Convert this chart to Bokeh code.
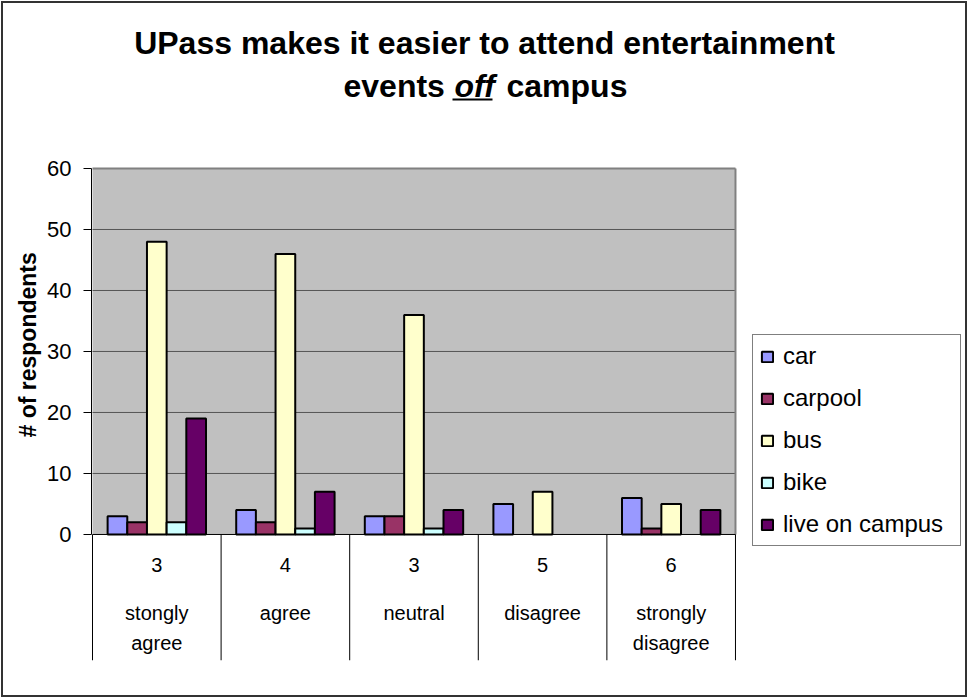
from bokeh.plotting import figure
from bokeh.models import (FixedTicker, Range1d, Label, Legend, LegendItem, Title,
                          BoxAnnotation, ColumnDataSource, InlineStyleSheet)
from bokeh.core.properties import value
from bokeh.embed import file_html
from bokeh.resources import INLINE

# ---- data ----
categories = ["stongly agree", "agree", "neutral", "disagree", "strongly disagree"]
category_labels = ["stongly\nagree", "agree", "neutral", "disagree", "strongly\ndisagree"]
category_counts = ["3", "4", "3", "5", "6"]
series_names = ["car", "carpool", "bus", "bike", "live on campus"]
car = [3, 4, 3, 5, 6]
carpool = [2, 2, 3, 0, 1]
bus = [48, 46, 36, 7, 5]
bike = [2, 1, 1, 0, 0]
live_on_campus = [19, 7, 4, 0, 4]
y_ticks = [0, 10, 20, 30, 40, 50, 60]
colors = ["#9999FF", "#993366", "#FFFFCC", "#CCFFFF", "#660066"]
y_title = "# of respondents"

series_values = [car, carpool, bus, bike, live_on_campus]
FONT = "Liberation Sans"
n = len(categories)
ymin, ymax = y_ticks[0], y_ticks[-1]

# layout constants: the frame is extended (in data units) to hold the category band,
# the title and the legend, so nothing is clipped
BAND_BOTTOM = -20.66
TOP_EXTRA = 87.54
RIGHT_EXTRA = 6.812
ROW_NUM, ROW_L1, ROW_L2 = -5.08, -12.95, -17.87
PAD_X = 0.0078

p = figure(width=968, height=698,
           x_range=Range1d(0 - PAD_X, RIGHT_EXTRA), y_range=Range1d(BAND_BOTTOM, TOP_EXTRA),
           output_backend="svg", toolbar_location=None, x_axis_type=None,
           min_border_left=91, min_border_right=0, min_border_top=0, min_border_bottom=38,
           background_fill_color="white", border_fill_color="white",
           outline_line_color=None)
p.title.visible = False
p.stylesheets = [InlineStyleSheet(css=(
    ":host { position: relative; }"
    ":host::after { content: ''; position: absolute; left: 1px; top: 1px; right: 1px; "
    "bottom: 1px; border: 2px solid #333333; pointer-events: none; z-index: 100; }"))]

# plot area (grey)
p.add_layout(BoxAnnotation(left=0, right=n, bottom=ymin, top=ymax, fill_color="#C0C0C0",
                           fill_alpha=1, line_color=None, level="image"))

# grid lines (only across the plot area)
p.grid.visible = False
inner = y_ticks[1:-1]
p.segment(x0=[0] * len(inner), y0=inner, x1=[n] * len(inner), y1=inner,
          line_color="#555555", line_width=1)
# plot-area border (top and right), grey
p.segment(x0=[0, n], y0=[ymax, ymin], x1=[n, n], y1=[ymax, ymax],
          line_color="#808080", line_width=2)

# y axis
ya = p.yaxis[0]
ya.bounds = (ymin, ymax)
ya.ticker = FixedTicker(ticks=y_ticks, minor_ticks=[])
ya.major_tick_out = 8
ya.major_tick_in = 0
ya.minor_tick_out = 0
ya.axis_line_color = "black"
ya.major_tick_line_color = "black"
ya.major_label_text_font = FONT
ya.major_label_text_font_size = "22px"
ya.major_label_text_color = "black"
ya.major_label_standoff = 12

# y axis title, placed along the 0..60 part of the axis
p.add_layout(Title(text=y_title, align="left", offset=223, text_font=FONT,
                   text_font_size="23px", text_font_style="bold", text_color="black",
                   standoff=8), "left")

# category axis: dividers + two label rows
centers = [i + 0.5 for i in range(n)]
bounds = [float(i) for i in range(n + 1)]
p.segment(x0=bounds, y0=[ymin] * len(bounds), x1=bounds, y1=[BAND_BOTTOM] * len(bounds),
          line_color="black", line_width=1)
line1 = [s.split("\n")[0] for s in category_labels]
line2 = [s.split("\n")[1] if "\n" in s else "" for s in category_labels]
txt_kw = dict(text_font=value(FONT), text_font_size="20px", text_color="black",
              text_align="center", text_baseline="middle")
p.text(x=centers, y=[ROW_NUM] * n, text=category_counts, **txt_kw)
p.text(x=centers, y=[ROW_L1] * n, text=line1, **txt_kw)
p.text(x=centers, y=[ROW_L2] * n, text=line2, **txt_kw)

# bars
bar_w = 0.153
items = []
for j, (name, vals, col) in enumerate(zip(series_names, series_values, colors)):
    xs = [c + (j - 2) * bar_w for c, v in zip(centers, vals) if v > 0]
    tops = [v for v in vals if v > 0]
    src = ColumnDataSource(dict(x=xs, top=tops))
    r = p.vbar(x="x", top="top", bottom=0, width=bar_w, source=src,
               fill_color=col, line_color="black", line_width=2)
    items.append(LegendItem(label=name, renderers=[r]))

# category axis line
p.segment(x0=[0], y0=[ymin], x1=[n], y1=[ymin], line_color="black", line_width=1)

legend = Legend(items=items, location=(661, 114))
legend.label_text_font = FONT
legend.label_text_font_size = "24px"
legend.label_text_color = "black"
legend.label_height = 26
legend.label_width = 170
legend.glyph_height = 13
legend.glyph_width = 14
legend.spacing = 14
legend.padding = 7
legend.label_standoff = 9
legend.margin = 0
legend.border_line_color = "black"
legend.border_line_width = 1
legend.background_fill_color = "white"
legend.background_fill_alpha = 1
p.add_layout(legend)

# title (two lines, "off" italic + underlined)
title_kw = dict(x_units="screen", y_units="screen", text_font=FONT, text_font_size="32px",
                text_font_style="bold", text_color="black", text_baseline="alphabetic")
p.add_layout(Label(x=393, y=618, text="UPass makes it easier to attend entertainment",
                   text_align="center", **title_kw))
p.add_layout(Label(x=252, y=575, text="events", text_align="left", **title_kw))
kw_it = dict(title_kw)
kw_it["text_font_style"] = "bold italic"
p.add_layout(Label(x=363, y=575, text="off", text_align="left", **kw_it))
p.add_layout(Label(x=415, y=575, text="campus", text_align="left", **title_kw))
p.add_layout(BoxAnnotation(left=361, right=401, bottom=560, top=562,
                           left_units="screen", right_units="screen",
                           top_units="screen", bottom_units="screen",
                           fill_color="black", fill_alpha=1, line_color=None))

open("out.html", "w").write(file_html(p, INLINE))
